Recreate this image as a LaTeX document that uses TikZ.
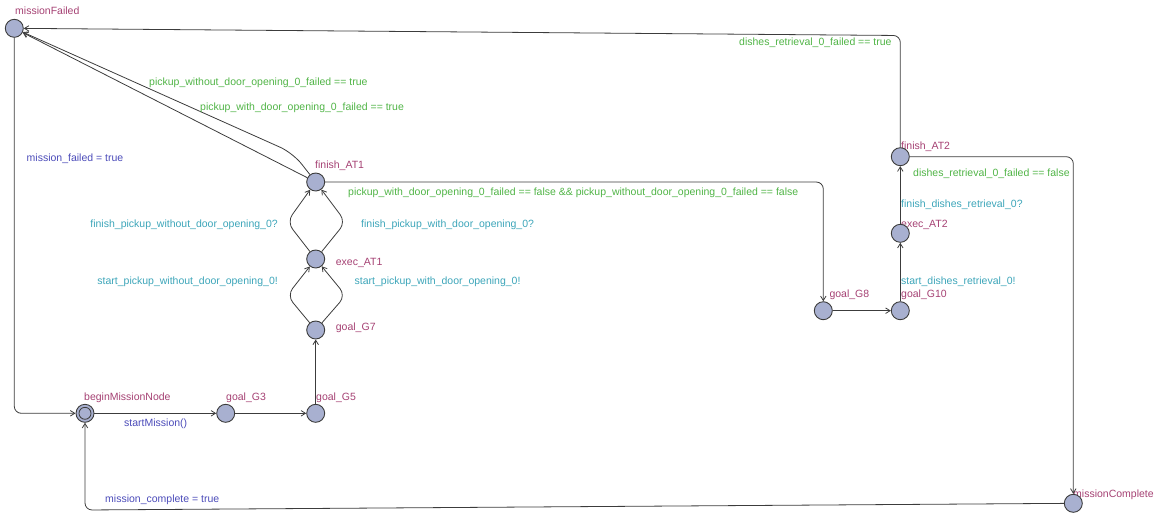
\documentclass[tikz,border=0pt]{standalone}
\usepackage{fontspec}
\setmainfont{Liberation Sans}
\usetikzlibrary{arrows.meta}
\definecolor{locname}{RGB}{165,65,115}
\definecolor{guardc}{RGB}{80,180,70}
\definecolor{syncc}{RGB}{60,165,185}
\definecolor{assignc}{RGB}{75,75,185}
\definecolor{locfill}{RGB}{168,176,208}
\definecolor{linec}{RGB}{60,60,60}
\tikzset{
  loc/.style={circle, draw=linec, fill=locfill, line width=0.9pt, minimum size=18pt, inner sep=0pt},
  lbl/.style={anchor=base west, inner sep=0pt, font=\fontsize{10.5}{12}\selectfont},
  lble/.style={anchor=base east, inner sep=0pt, font=\fontsize{10.5}{12}\selectfont},
  lname/.style={lbl, text=locname},
  guard/.style={text=guardc},
  sync/.style={text=syncc},
  assign/.style={text=assignc},
  edge/.style={draw=linec, line width=0.8pt, -{Straight Barb[length=4.5pt,width=5.5pt]}, rounded corners=7pt}
}
\begin{document}
\begin{tikzpicture}[x=1pt,y=-1pt]
\useasboundingbox (0,0) rectangle (1156,512);
% location names
\node[lname] (nmf) at (15,14) {missionFailed};
\node[lname] (nbm) at (84,400) {beginMissionNode};
\node[lname] (ng3) at (226,400) {goal\_G3};
\node[lname] (ng5) at (316,400) {goal\_G5};
\node[lname] (ng7) at (335.7,330) {goal\_G7};
\node[lname] (nea1) at (335.7,265) {exec\_AT1};
\node[lname] (nfa1) at (315,168) {finish\_AT1};
\node[lname] (ng8) at (829.3,297) {goal\_G8};
\node[lname] (ng10) at (901,297) {goal\_G10};
\node[lname] (nea2) at (901,227) {exec\_AT2};
\node[lname] (nfa2) at (901,149) {finish\_AT2};
\node[lname] (nmc) at (1073,497) {missionComplete};
% locations
\node[loc] (mf) at (14.3,28.3) {};
\node[loc] (bm) at (85,413.3) {};
\draw[draw=linec, line width=0.8pt] (bm.center) circle[radius=6pt];
\node[loc] (g3) at (225.7,413.3) {};
\node[loc] (g5) at (315.7,413.3) {};
\node[loc] (g7) at (315.7,330) {};
\node[loc] (ea1) at (315.7,259) {};
\node[loc] (fa1) at (315.7,182) {};
\node[loc] (g8) at (823.3,310.7) {};
\node[loc] (g10) at (900.3,310.7) {};
\node[loc] (ea2) at (900.3,233.3) {};
\node[loc] (fa2) at (900.3,156.7) {};
\node[loc] (mc) at (1073.3,503.3) {};
% bend points
\coordinate (b1) at (287,295.5);
\coordinate (b2) at (345.7,295.5);
\coordinate (b3) at (287,222);
\coordinate (b4) at (345.7,222);
\coordinate (b5) at (293,153);
\coordinate (b6) at (900.3,35.5);
\coordinate (b7) at (85,510);
% edges
\draw[edge] (mf) |- (bm);
\draw[edge] (bm) -- (g3);
\draw[edge] (g3) -- (g5);
\draw[edge] (g5) -- (g7);
\draw[edge, rounded corners=9pt] (g7) -- (b1) -- (ea1);
\draw[edge, rounded corners=9pt] (g7) -- (b2) -- (ea1);
\draw[edge, rounded corners=9pt] (ea1) -- (b3) -- (fa1);
\draw[edge, rounded corners=9pt] (ea1) -- (b4) -- (fa1);
\draw[edge, rounded corners=14pt] (fa1) -- (b5) -- (mf);
\draw[edge] (fa1) -- (mf);
\draw[edge] (fa1) -| (g8);
\draw[edge] (g8) -- (g10);
\draw[edge] (g10) -- (ea2);
\draw[edge] (ea2) -- (fa2);
\draw[edge] (fa2) -- (b6) -- (mf);
\draw[edge] (fa2) -| (mc);
\draw[edge] (mc) -- (b7) -- (bm);
% edge labels
\node[lbl, assign] (l1) at (26.5,161) {mission\_failed = true};
\node[lbl, assign] (l2) at (124,426) {startMission()};
\node[lbl, assign] (l3) at (105,502) {mission\_complete = true};
\node[lble, sync] (l4) at (278,284) {start\_pickup\_without\_door\_opening\_0!};
\node[lbl, sync] (l5) at (354.5,284) {start\_pickup\_with\_door\_opening\_0!};
\node[lble, sync] (l6) at (278,227) {finish\_pickup\_without\_door\_opening\_0?};
\node[lbl, sync] (l7) at (361,227) {finish\_pickup\_with\_door\_opening\_0?};
\node[lbl, guard] (l8) at (149,85) {pickup\_without\_door\_opening\_0\_failed == true};
\node[lbl, guard] (l9) at (200,110.5) {pickup\_with\_door\_opening\_0\_failed == true};
\node[lbl, guard] (l10) at (348,195) {pickup\_with\_door\_opening\_0\_failed == false \&\& pickup\_without\_door\_opening\_0\_failed == false};
\node[lbl, guard] (l11) at (739,45.5) {dishes\_retrieval\_0\_failed == true};
\node[lbl, guard] (l12) at (913,176) {dishes\_retrieval\_0\_failed == false};
\node[lbl, sync] (l13) at (901,207) {finish\_dishes\_retrieval\_0?};
\node[lbl, sync] (l14) at (901,284) {start\_dishes\_retrieval\_0!};
\end{tikzpicture}
\end{document}
